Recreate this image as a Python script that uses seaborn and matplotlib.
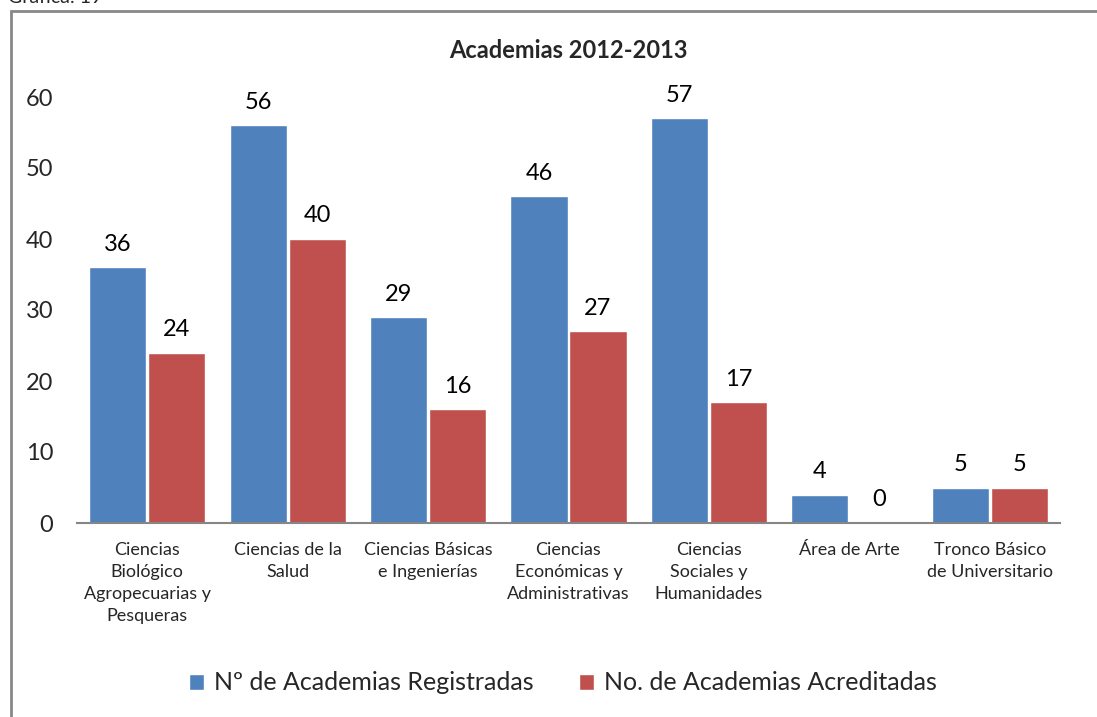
import matplotlib
matplotlib.use('Agg')
import matplotlib.pyplot as plt
import matplotlib.patches as mpatches
import seaborn as sns
import pandas as pd

# Data
categorias = [
    'Ciencias\nBiológico\nAgropecuarias y\nPesqueras',
    'Ciencias de la\nSalud',
    'Ciencias Básicas\ne Ingenierías',
    'Ciencias\nEconómicas y\nAdministrativas',
    'Ciencias\nSociales y\nHumanidades',
    'Área de Arte',
    'Tronco Básico\nde Universitario',
]
registradas = [36, 56, 29, 46, 57, 4, 5]
acreditadas = [24, 40, 16, 27, 17, 0, 5]
series = ['Nº de Academias Registradas', 'No. de Academias Acreditadas']
colores = ['#4F81BD', '#C0504D']
y_ticks = [0, 10, 20, 30, 40, 50, 60]

df = pd.DataFrame({
    'categoria': categorias * 2,
    'valor': registradas + acreditadas,
    'serie': [series[0]] * len(categorias) + [series[1]] * len(categorias),
})

sns.set_style('white')
plt.rcParams['font.family'] = ['Lato', 'DejaVu Sans']

fig = plt.figure(figsize=(10.97, 7.17), dpi=100)
ax = fig.add_axes([77 / 1097, 1 - 523 / 717, (1060 - 77) / 1097, (523 - 97) / 717])

sns.barplot(data=df, x='categoria', y='valor', hue='serie', palette=colores,
            width=0.84, gap=0.03, saturation=1, ax=ax)

# value labels
for cont in ax.containers:
    ax.bar_label(cont, fmt='%g', padding=9, fontsize=17, color='black')

ax.set_ylim(0, 60)
ax.set_yticks(y_ticks)
ax.set_xlim(-0.5, len(categorias) - 0.5)
ax.set_xlabel('')
ax.set_ylabel('')
ax.tick_params(axis='y', length=0, pad=17, labelsize=17)
ax.tick_params(axis='x', length=0, pad=14, labelsize=13)
for lbl in ax.get_xticklabels():
    lbl.set_linespacing(1.45)
for side in ['left', 'right', 'top']:
    ax.spines[side].set_visible(False)
ax.spines['bottom'].set_color('#868686')
ax.spines['bottom'].set_linewidth(1.5)

ax.set_title('Academias 2012-2013', fontsize=17, fontweight='bold', pad=28)

# legend
handles, labels = ax.get_legend_handles_labels()
ax.get_legend().remove()
fig.legend(handles, labels, loc='center', bbox_to_anchor=(563 / 1097, 1 - 683 / 717),
           ncol=2, frameon=False, fontsize=18, handlelength=0.6, handleheight=0.6,
           handletextpad=0.4, columnspacing=1.8)

# outer frame of the chart
fig.patches.append(mpatches.Rectangle((11 / 1097, -0.1), 1.2, 1 - 11 / 717 + 0.1,
                                      transform=fig.transFigure, fill=False,
                                      edgecolor='#888888', linewidth=2))
fig.text(8 / 1097, 1 - 3 / 717, 'Gráfica: 19', fontsize=14, va='baseline', ha='left')

fig.savefig('out.png', dpi=100)
